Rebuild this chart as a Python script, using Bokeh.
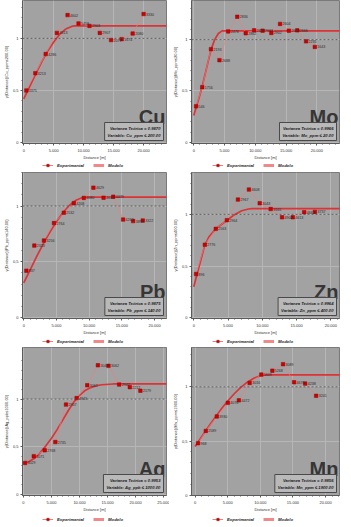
from bokeh.plotting import figure
from bokeh.layouts import column, row
from bokeh.models import FixedTicker, Legend, LegendItem, Label, Span, Range1d
from bokeh.core.properties import value
from bokeh.embed import file_html
from bokeh.resources import INLINE

FONT = "Liberation Sans"

# ---------------- data ----------------
x_ticks = [0, 5000, 10000, 15000, 20000, 25000]
x_tick_labels = ["0", "5.000", "10.000", "15.000", "20.000", "25.000"]
y_ticks = [0, 0.5, 1]
y_tick_labels = ["0", "0,5", "1"]

cu_dist = [435, 1935, 3660, 5530, 7310, 9140, 10970, 12690, 14570, 16340, 18170, 20000]
cu_gamma = [0.50, 0.666, 0.85, 1.053, 1.224, 1.144, 1.12, 1.053, 0.984, 0.993, 1.047, 1.234]
cu_pairs = [3375, 3213, 4286, 4613, 4602, 5458, 2903, 2907, 2077, 1674, 2080, 3330]
cu_model_dist = [0, 1000, 2000, 3000, 4000, 5000, 6000, 7000, 8000, 8500, 23800]
cu_model_gamma = [0.42, 0.54, 0.66, 0.775, 0.88, 0.965, 1.04, 1.09, 1.115, 1.12, 1.12]

mo_dist = [380, 1380, 2800, 4180, 5600, 7070, 8450, 9810, 11190, 12610, 14030, 15460, 16830, 18260, 19680]
mo_gamma = [0.35, 0.537, 0.907, 0.80, 1.08, 1.223, 1.062, 1.09, 1.087, 1.065, 1.153, 1.087, 1.09, 0.983, 0.929]
mo_pairs = [546, 1756, 2193, 2688, 2476, 2836, 2862, 2638, 2663, 2902, 2604, 2608, 2666, 2235, 1643]
mo_model_dist = [0, 400, 1000, 1400, 2000, 2800, 3400, 4000, 4600, 23700]
mo_model_gamma = [0.26, 0.34, 0.46, 0.55, 0.70, 0.90, 1.00, 1.06, 1.085, 1.085]

pb_dist = [400, 1620, 3090, 4620, 6130, 7650, 9180, 10650, 12200, 13680, 15190, 16720, 18190]
pb_gamma = [0.42, 0.645, 0.69, 0.847, 0.94, 1.026, 1.073, 1.165, 1.075, 1.084, 0.879, 0.865, 0.87]
pb_pairs = [837, 2323, 3256, 2764, 2532, 4208, 4080, 4629, 4633, 4479, 4263, 3899, 3322]
pb_model_dist = [0, 1000, 2000, 3000, 4000, 5000, 6000, 7000, 8000, 9000, 9500, 21800]
pb_model_gamma = [0.31, 0.43, 0.55, 0.663, 0.767, 0.861, 0.942, 1.007, 1.052, 1.077, 1.08, 1.08]

zn_dist = [340, 1620, 3220, 4830, 6450, 8050, 9620, 11220, 12880, 14450, 16110, 17670]
zn_gamma = [0.423, 0.707, 0.86, 0.944, 1.143, 1.24, 1.108, 1.052, 0.972, 0.972, 1.021, 1.024]
zn_pairs = [896, 2776, 2563, 2964, 2967, 4608, 3043, 3165, 4902, 4613, 4663, 3737]
zn_model_dist = [0, 800, 1600, 2200, 3200, 4000, 5000, 6000, 7000, 8000, 8500, 21300]
zn_model_gamma = [0.30, 0.50, 0.70, 0.78, 0.86, 0.90, 0.95, 1.00, 1.035, 1.052, 1.055, 1.055]

ag_dist = [290, 1840, 3790, 5690, 7590, 9480, 11380, 13280, 15170, 17070, 18970, 20860]
ag_gamma = [0.331, 0.402, 0.463, 0.55, 0.942, 1.01, 1.145, 1.354, 1.348, 1.152, 1.125, 1.087]
ag_pairs = [3029, 3071, 2768, 2735, 2907, 4843, 3061, 3049, 3062, 2942, 2212, 2179]
ag_model_dist = [0, 1000, 2000, 3000, 4000, 5000, 6000, 7000, 8000, 9000, 10000, 11000, 12000, 13000, 14000, 16000, 25500]
ag_model_gamma = [0.33, 0.345, 0.38, 0.44, 0.51, 0.59, 0.68, 0.78, 0.88, 0.97, 1.04, 1.09, 1.12, 1.14, 1.15, 1.158, 1.158]

mn_dist = [450, 1640, 3330, 5020, 6710, 8360, 10150, 11840, 13480, 15170, 16870, 18550]
mn_gamma = [0.48, 0.593, 0.727, 0.852, 0.875, 1.036, 1.113, 1.149, 1.209, 1.042, 1.03, 0.917]
mn_pairs = [968, 2589, 3930, 4076, 4472, 3016, 5609, 5268, 3089, 4676, 4238, 3241]
mn_model_dist = [0, 1000, 2000, 3000, 4000, 5000, 6000, 7000, 8000, 9000, 10000, 11000, 22200]
mn_model_gamma = [0.45, 0.54, 0.628, 0.713, 0.794, 0.869, 0.936, 0.995, 1.043, 1.079, 1.102, 1.11, 1.11]

elements = ["Cu", "Mo", "Pb", "Zn", "Ag", "Mn"]
variances = ["0.9870", "0.9966", "0.9875", "0.9964", "0.9953", "0.9856"]
variables = ["Cu_ppm ≤ 200.00", "Mo_ppm ≤ 20.00", "Pb_ppm ≤ 140.00",
             "Zn_ppm ≤ 400.00", "Ag_ppb ≤ 1000.00", "Mn_ppm ≤ 1900.00"]
y_axis_titles = ["γ(Distance)(Cu_ppm≤200.00)", "γ(Distance)(Mo_ppm≤20.00)",
                 "γ(Distance)(Pb_ppm≤140.00)", "γ(Distance)(Zn_ppm≤400.00)",
                 "γ(Distance)(Ag_ppb≤1000.00)", "γ(Distance)(Mn_ppm≤1900.00)"]
x_axis_title = "Distance [m]"
legend_labels = ["Experimental", "Modelo"]

series = [
    (cu_dist, cu_gamma, cu_pairs, cu_model_dist, cu_model_gamma),
    (mo_dist, mo_gamma, mo_pairs, mo_model_dist, mo_model_gamma),
    (pb_dist, pb_gamma, pb_pairs, pb_model_dist, pb_model_gamma),
    (zn_dist, zn_gamma, zn_pairs, zn_model_dist, zn_model_gamma),
    (ag_dist, ag_gamma, ag_pairs, ag_model_dist, ag_model_gamma),
    (mn_dist, mn_gamma, mn_pairs, mn_model_dist, mn_model_gamma),
]

# ---------------- layout (positions / sizes) ----------------
x_ranges = [(-210, 23820), (-364, 23690), (-190, 21820), (-327, 21260), (-172, 25517), (-552, 22130)]
y_ranges = [(-0.009, 1.364), (-0.012, 1.381), (-0.009, 1.301), (-0.007, 1.405), (-0.010, 1.540), (-0.003, 1.363)]
col_geo = [dict(width=169, min_border_left=17, min_border_right=3),
           dict(width=182, min_border_left=18, min_border_right=12)]
row_geo = [dict(height=162, min_border_top=0, min_border_bottom=15),
           dict(height=165, min_border_top=0, min_border_bottom=14),
           dict(height=167, min_border_top=0, min_border_bottom=14)]
legend_fig_h = [10, 10, 13]
legend_y = [4, 3, 5]
legend_x = [20, 21]

PLOT_BG = "#a2a2a2"
GRID = "#b6b6b6"
MODEL_RED = "#e3262a"
EXP_RED = "#d00000"
EXP_LINE = "#e88080"


def make_panel(i):
    d, g, pairs, md, mg = series[i]
    r, c = divmod(i, 2)
    p = figure(output_backend="svg", toolbar_location=None,
               x_range=Range1d(*x_ranges[i]), y_range=Range1d(*y_ranges[i]),
               **col_geo[c], **row_geo[r])
    p.background_fill_color = PLOT_BG
    p.border_fill_color = "white"
    p.outline_line_color = "#7a7a7a"
    p.outline_line_width = 1

    xminor = [v for v in range(1000, 26000, 1000) if v % 5000 != 0]
    p.xaxis.ticker = FixedTicker(ticks=x_ticks, minor_ticks=xminor)
    p.xaxis.major_label_overrides = {t: s for t, s in zip(x_ticks, x_tick_labels)}
    yminor = [k / 10 for k in range(1, 16) if k % 5 != 0]
    p.yaxis.ticker = FixedTicker(ticks=y_ticks, minor_ticks=yminor)
    p.yaxis.major_label_overrides = {t: s for t, s in zip(y_ticks, y_tick_labels)}
    for ax in (p.xaxis[0], p.yaxis[0]):
        ax.axis_line_color = "#5a5a5a"
        ax.major_tick_line_color = "#5a5a5a"
        ax.minor_tick_line_color = "#5a5a5a"
        ax.major_tick_out = 2
        ax.major_tick_in = 0
        ax.minor_tick_out = 1
        ax.minor_tick_in = 0
        ax.major_label_text_font = FONT
        ax.major_label_text_font_size = "4px"
        ax.major_label_text_color = "#333333"
        ax.axis_label_text_font = FONT
        ax.axis_label_text_font_size = "4px"
        ax.axis_label_text_font_style = "normal"
        ax.axis_label_text_color = "#333333"
    p.xaxis.major_label_standoff = 3
    p.xaxis.axis_label_standoff = 0
    p.yaxis.major_label_standoff = 2
    p.yaxis.axis_label_standoff = 1
    p.xaxis.axis_label = x_axis_title
    p.yaxis.axis_label = y_axis_titles[i]
    p.xgrid.ticker = FixedTicker(ticks=x_ticks)
    p.ygrid.ticker = FixedTicker(ticks=y_ticks)
    p.grid.grid_line_color = GRID
    p.grid.grid_line_width = 1

    p.add_layout(Span(location=1, dimension="width", line_color="#4a4a4a",
                      line_dash="2 2", line_width=0.8))

    p.line(md, mg, line_color=MODEL_RED, line_width=1.7, line_alpha=0.9)
    p.line(d, g, line_color=EXP_LINE, line_width=0.7)
    p.scatter(d, g, marker="square", size=3.5, fill_color=EXP_RED,
              line_color="#9a0000", line_width=0.5)
    p.text(x=d, y=g, text=[str(v) for v in pairs], x_offset=2.5,
           text_baseline="middle", text_font=value(FONT), text_font_size="3.6px",
           text_color="#2a2a2a")

    x1 = x_ranges[i][1]
    y0 = y_ranges[i][0]
    p.add_layout(Label(x=x1, y=y0, x_offset=-1, y_offset=16, text=elements[i],
                       text_align="right", text_baseline="bottom",
                       text_font=FONT, text_font_size="20px", text_font_style="bold",
                       text_color="#363636"))
    p.add_layout(Label(x=x1, y=y0, x_offset=-3, y_offset=3,
                       text="Varianza Teórica = " + variances[i] + "\nVariable: " + variables[i],
                       text_align="right", text_baseline="bottom",
                       text_font=FONT, text_font_size="4.2px", text_font_style="bold italic",
                       text_color="#202020", text_line_height=1.4,
                       background_fill_color="#b9b9b9", border_line_color="#4a4a4a",
                       border_line_width=1, padding=3))

    # legend strip under the axis (its sample glyphs sit outside its visible range)
    h = legend_fig_h[r]
    lg = figure(output_backend="svg", toolbar_location=None, width=col_geo[c]["width"], height=h,
                x_axis_type=None, y_axis_type=None, min_border=0,
                x_range=Range1d(0, 1), y_range=Range1d(0, 1))
    lg.outline_line_color = None
    lg.background_fill_color = "white"
    lg.grid.visible = False
    e_line = lg.line([5, 6], [5, 6], line_color=EXP_LINE, line_width=1)
    e_pts = lg.scatter([5], [5], marker="square", size=4, fill_color=EXP_RED,
                       line_color="#9a0000", line_width=0.5)
    m_line = lg.line([5, 6], [5, 6], line_color="#f08a8a", line_width=3)
    legend = Legend(items=[LegendItem(label=legend_labels[0], renderers=[e_line, e_pts]),
                           LegendItem(label=legend_labels[1], renderers=[m_line])],
                    orientation="horizontal", location=(legend_x[c], legend_y[r]),
                    label_text_font=FONT, label_text_font_size="4.3px",
                    label_text_font_style="bold italic", label_text_color="#222222",
                    glyph_width=11, glyph_height=6, label_height=6, label_standoff=4,
                    spacing=9, padding=0, margin=0,
                    background_fill_alpha=0, border_line_alpha=0)
    lg.add_layout(legend)
    return column(p, lg)


panels = [make_panel(i) for i in range(6)]
layout = column(row(panels[0], panels[1]), row(panels[2], panels[3]), row(panels[4], panels[5]))
open("out.html", "w").write(file_html(layout, INLINE))
